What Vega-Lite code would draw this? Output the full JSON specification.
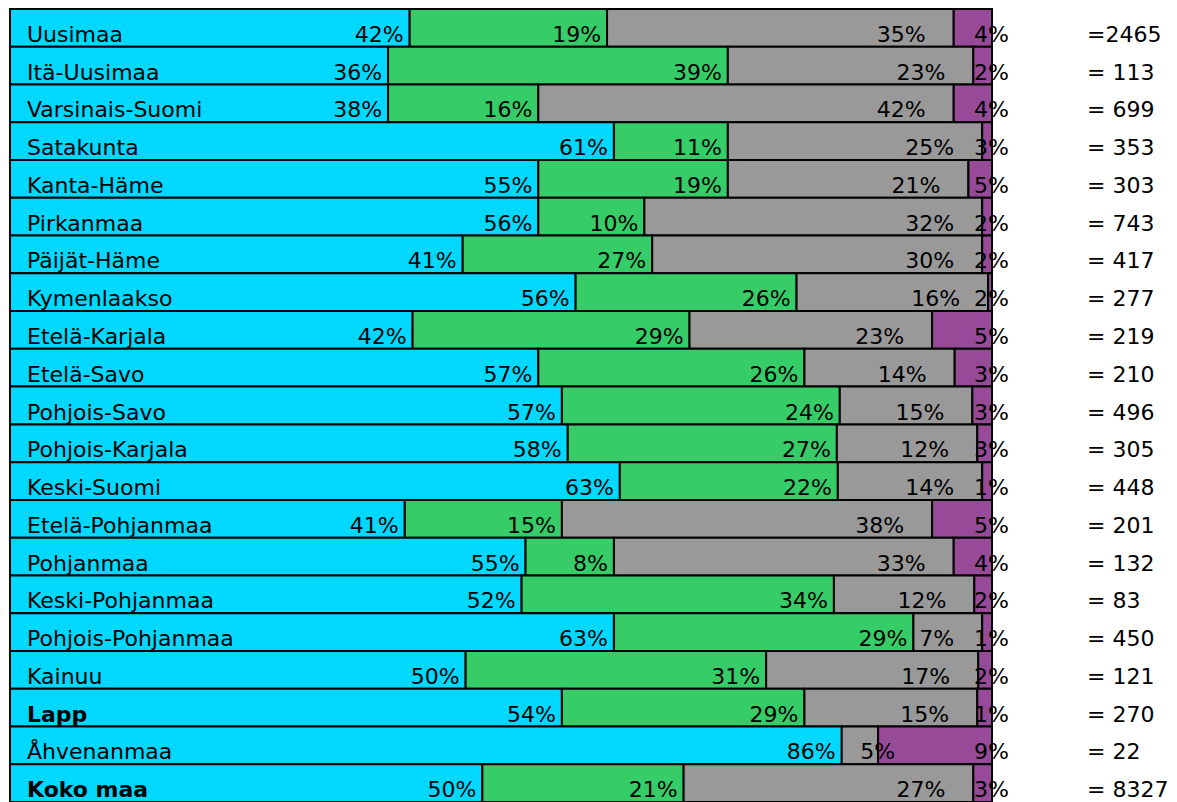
{
  "$schema": "https://vega.github.io/schema/vega-lite/v6.json",
  "width": 982,
  "height": 793,
  "autosize": {"type": "none"},
  "padding": {"left": 10, "top": 9, "right": 185, "bottom": 0},
  "background": "white",
  "config": {"view": {"stroke": null}},
  "datasets": {
    "segments": [
      {"region": "Uusimaa", "k": 1, "share": 40.7, "label": "42%"},
      {"region": "Uusimaa", "k": 2, "share": 20.1, "label": "19%"},
      {"region": "Uusimaa", "k": 3, "share": 35.3, "label": "35%"},
      {"region": "Uusimaa", "k": 4, "share": 3.9, "label": "4%"},
      {"region": "Itä-Uusimaa", "k": 1, "share": 38.5, "label": "36%"},
      {"region": "Itä-Uusimaa", "k": 2, "share": 34.6, "label": "39%"},
      {"region": "Itä-Uusimaa", "k": 3, "share": 25.0, "label": "23%"},
      {"region": "Itä-Uusimaa", "k": 4, "share": 1.9, "label": "2%"},
      {"region": "Varsinais-Suomi", "k": 1, "share": 38.5, "label": "38%"},
      {"region": "Varsinais-Suomi", "k": 2, "share": 15.3, "label": "16%"},
      {"region": "Varsinais-Suomi", "k": 3, "share": 42.3, "label": "42%"},
      {"region": "Varsinais-Suomi", "k": 4, "share": 3.9, "label": "4%"},
      {"region": "Satakunta", "k": 1, "share": 61.5, "label": "61%"},
      {"region": "Satakunta", "k": 2, "share": 11.6, "label": "11%"},
      {"region": "Satakunta", "k": 3, "share": 25.9, "label": "25%"},
      {"region": "Satakunta", "k": 4, "share": 1.0, "label": "3%"},
      {"region": "Kanta-Häme", "k": 1, "share": 53.8, "label": "55%"},
      {"region": "Kanta-Häme", "k": 2, "share": 19.3, "label": "19%"},
      {"region": "Kanta-Häme", "k": 3, "share": 24.5, "label": "21%"},
      {"region": "Kanta-Häme", "k": 4, "share": 2.4, "label": "5%"},
      {"region": "Pirkanmaa", "k": 1, "share": 53.8, "label": "56%"},
      {"region": "Pirkanmaa", "k": 2, "share": 10.8, "label": "10%"},
      {"region": "Pirkanmaa", "k": 3, "share": 34.4, "label": "32%"},
      {"region": "Pirkanmaa", "k": 4, "share": 1.0, "label": "2%"},
      {"region": "Päijät-Häme", "k": 1, "share": 46.1, "label": "41%"},
      {"region": "Päijät-Häme", "k": 2, "share": 19.3, "label": "27%"},
      {"region": "Päijät-Häme", "k": 3, "share": 33.6, "label": "30%"},
      {"region": "Päijät-Häme", "k": 4, "share": 1.0, "label": "2%"},
      {"region": "Kymenlaakso", "k": 1, "share": 57.6, "label": "56%"},
      {"region": "Kymenlaakso", "k": 2, "share": 22.5, "label": "26%"},
      {"region": "Kymenlaakso", "k": 3, "share": 19.5, "label": "16%"},
      {"region": "Kymenlaakso", "k": 4, "share": 0.4, "label": "2%"},
      {"region": "Etelä-Karjala", "k": 1, "share": 41.0, "label": "42%"},
      {"region": "Etelä-Karjala", "k": 2, "share": 28.2, "label": "29%"},
      {"region": "Etelä-Karjala", "k": 3, "share": 24.7, "label": "23%"},
      {"region": "Etelä-Karjala", "k": 4, "share": 6.1, "label": "5%"},
      {"region": "Etelä-Savo", "k": 1, "share": 53.8, "label": "57%"},
      {"region": "Etelä-Savo", "k": 2, "share": 27.1, "label": "26%"},
      {"region": "Etelä-Savo", "k": 3, "share": 15.3, "label": "14%"},
      {"region": "Etelä-Savo", "k": 4, "share": 3.8, "label": "3%"},
      {"region": "Pohjois-Savo", "k": 1, "share": 56.2, "label": "57%"},
      {"region": "Pohjois-Savo", "k": 2, "share": 28.3, "label": "24%"},
      {"region": "Pohjois-Savo", "k": 3, "share": 13.5, "label": "15%"},
      {"region": "Pohjois-Savo", "k": 4, "share": 2.0, "label": "3%"},
      {"region": "Pohjois-Karjala", "k": 1, "share": 56.8, "label": "58%"},
      {"region": "Pohjois-Karjala", "k": 2, "share": 27.4, "label": "27%"},
      {"region": "Pohjois-Karjala", "k": 3, "share": 14.3, "label": "12%"},
      {"region": "Pohjois-Karjala", "k": 4, "share": 1.5, "label": "3%"},
      {"region": "Keski-Suomi", "k": 1, "share": 62.1, "label": "63%"},
      {"region": "Keski-Suomi", "k": 2, "share": 22.2, "label": "22%"},
      {"region": "Keski-Suomi", "k": 3, "share": 14.7, "label": "14%"},
      {"region": "Keski-Suomi", "k": 4, "share": 1.0, "label": "1%"},
      {"region": "Etelä-Pohjanmaa", "k": 1, "share": 40.2, "label": "41%"},
      {"region": "Etelä-Pohjanmaa", "k": 2, "share": 16.0, "label": "15%"},
      {"region": "Etelä-Pohjanmaa", "k": 3, "share": 37.7, "label": "38%"},
      {"region": "Etelä-Pohjanmaa", "k": 4, "share": 6.1, "label": "5%"},
      {"region": "Pohjanmaa", "k": 1, "share": 52.5, "label": "55%"},
      {"region": "Pohjanmaa", "k": 2, "share": 9.0, "label": "8%"},
      {"region": "Pohjanmaa", "k": 3, "share": 34.6, "label": "33%"},
      {"region": "Pohjanmaa", "k": 4, "share": 3.9, "label": "4%"},
      {"region": "Keski-Pohjanmaa", "k": 1, "share": 52.1, "label": "52%"},
      {"region": "Keski-Pohjanmaa", "k": 2, "share": 31.8, "label": "34%"},
      {"region": "Keski-Pohjanmaa", "k": 3, "share": 14.3, "label": "12%"},
      {"region": "Keski-Pohjanmaa", "k": 4, "share": 1.8, "label": "2%"},
      {"region": "Pohjois-Pohjanmaa", "k": 1, "share": 61.5, "label": "63%"},
      {"region": "Pohjois-Pohjanmaa", "k": 2, "share": 30.5, "label": "29%"},
      {"region": "Pohjois-Pohjanmaa", "k": 3, "share": 7.0, "label": "7%"},
      {"region": "Pohjois-Pohjanmaa", "k": 4, "share": 1.0, "label": "1%"},
      {"region": "Kainuu", "k": 1, "share": 46.4, "label": "50%"},
      {"region": "Kainuu", "k": 2, "share": 30.6, "label": "31%"},
      {"region": "Kainuu", "k": 3, "share": 21.6, "label": "17%"},
      {"region": "Kainuu", "k": 4, "share": 1.4, "label": "2%"},
      {"region": "Lapp", "k": 1, "share": 56.2, "label": "54%"},
      {"region": "Lapp", "k": 2, "share": 24.7, "label": "29%"},
      {"region": "Lapp", "k": 3, "share": 17.6, "label": "15%"},
      {"region": "Lapp", "k": 4, "share": 1.5, "label": "1%"},
      {"region": "Åhvenanmaa", "k": 1, "share": 84.7, "label": "86%"},
      {"region": "Åhvenanmaa", "k": 3, "share": 3.7, "label": "5%"},
      {"region": "Åhvenanmaa", "k": 4, "share": 11.6, "label": "9%"},
      {"region": "Koko maa", "k": 1, "share": 48.1, "label": "50%"},
      {"region": "Koko maa", "k": 2, "share": 20.5, "label": "21%"},
      {"region": "Koko maa", "k": 3, "share": 29.5, "label": "27%"},
      {"region": "Koko maa", "k": 4, "share": 1.9, "label": "3%"}
    ],
    "regions": [
      {"region": "Uusimaa", "n": "=2465"},
      {"region": "Itä-Uusimaa", "n": "= 113"},
      {"region": "Varsinais-Suomi", "n": "= 699"},
      {"region": "Satakunta", "n": "= 353"},
      {"region": "Kanta-Häme", "n": "= 303"},
      {"region": "Pirkanmaa", "n": "= 743"},
      {"region": "Päijät-Häme", "n": "= 417"},
      {"region": "Kymenlaakso", "n": "= 277"},
      {"region": "Etelä-Karjala", "n": "= 219"},
      {"region": "Etelä-Savo", "n": "= 210"},
      {"region": "Pohjois-Savo", "n": "= 496"},
      {"region": "Pohjois-Karjala", "n": "= 305"},
      {"region": "Keski-Suomi", "n": "= 448"},
      {"region": "Etelä-Pohjanmaa", "n": "= 201"},
      {"region": "Pohjanmaa", "n": "= 132"},
      {"region": "Keski-Pohjanmaa", "n": "= 83"},
      {"region": "Pohjois-Pohjanmaa", "n": "= 450"},
      {"region": "Kainuu", "n": "= 121"},
      {"region": "Lapp", "n": "= 270"},
      {"region": "Åhvenanmaa", "n": "= 22"},
      {"region": "Koko maa", "n": "= 8327"}
    ]
  },
  "encoding": {
    "y": {
      "field": "region",
      "type": "nominal",
      "axis": null,
      "scale": {
        "domain": ["Uusimaa", "Itä-Uusimaa", "Varsinais-Suomi", "Satakunta", "Kanta-Häme", "Pirkanmaa", "Päijät-Häme", "Kymenlaakso", "Etelä-Karjala", "Etelä-Savo", "Pohjois-Savo", "Pohjois-Karjala", "Keski-Suomi", "Etelä-Pohjanmaa", "Pohjanmaa", "Keski-Pohjanmaa", "Pohjois-Pohjanmaa", "Kainuu", "Lapp", "Åhvenanmaa", "Koko maa"],
        "paddingInner": 0,
        "paddingOuter": 0
      }
    }
  },
  "layer": [
    {
      "data": {"name": "segments"},
      "transform": [
        {"stack": "share", "groupby": ["region"], "sort": [{"field": "k", "order": "ascending"}], "as": ["x0", "x1"]}
      ],
      "layer": [
        {
          "mark": {"type": "bar", "stroke": "black", "strokeWidth": 2},
          "encoding": {
            "x": {"field": "x0", "type": "quantitative", "axis": null, "scale": {"domain": [0, 100], "nice": false, "zero": true}},
            "x2": {"field": "x1"},
            "color": {
              "field": "k",
              "type": "nominal",
              "legend": null,
              "scale": {"domain": [1, 2, 3, 4], "range": ["#00D8FF", "#36CC68", "#999999", "#974A97"]}
            }
          }
        },
        {
          "transform": [{"filter": "datum.k <= 2"}],
          "mark": {"type": "text", "align": "right", "baseline": "alphabetic", "dx": -6, "dy": 14, "font": "DejaVu Sans", "fontSize": 22, "color": "black"},
          "encoding": {
            "x": {"field": "x1", "type": "quantitative"},
            "text": {"field": "label"}
          }
        },
        {
          "transform": [{"filter": "datum.k == 3 && datum.share >= 5"}],
          "mark": {"type": "text", "align": "right", "baseline": "alphabetic", "dx": -28, "dy": 14, "font": "DejaVu Sans", "fontSize": 22, "color": "black"},
          "encoding": {
            "x": {"field": "x1", "type": "quantitative"},
            "text": {"field": "label"}
          }
        },
        {
          "transform": [{"filter": "datum.k == 4 || (datum.k == 3 && datum.share < 5)"}],
          "mark": {"type": "text", "align": "right", "baseline": "alphabetic", "dx": 17, "dy": 14, "font": "DejaVu Sans", "fontSize": 22, "color": "black"},
          "encoding": {
            "x": {"field": "x1", "type": "quantitative"},
            "text": {"field": "label"}
          }
        }
      ]
    },
    {
      "data": {"name": "regions"},
      "layer": [
        {
          "transform": [{"filter": "datum.region !== 'Lapp' && datum.region !== 'Koko maa'"}],
          "mark": {"type": "text", "align": "left", "baseline": "alphabetic", "dx": 17, "dy": 14, "font": "DejaVu Sans", "fontSize": 22, "color": "black"},
          "encoding": {
            "x": {"datum": 0, "type": "quantitative"},
            "text": {"field": "region"}
          }
        },
        {
          "transform": [{"filter": "datum.region === 'Lapp' || datum.region === 'Koko maa'"}],
          "mark": {"type": "text", "align": "left", "baseline": "alphabetic", "dx": 17, "dy": 14, "font": "DejaVu Sans", "fontSize": 22, "fontWeight": "bold", "color": "black"},
          "encoding": {
            "x": {"datum": 0, "type": "quantitative"},
            "text": {"field": "region"}
          }
        },
        {
          "mark": {"type": "text", "align": "left", "baseline": "alphabetic", "dx": 95, "dy": 14, "font": "DejaVu Sans", "fontSize": 22, "color": "black"},
          "encoding": {
            "x": {"datum": 100, "type": "quantitative"},
            "text": {"field": "n"}
          }
        }
      ]
    }
  ]
}
